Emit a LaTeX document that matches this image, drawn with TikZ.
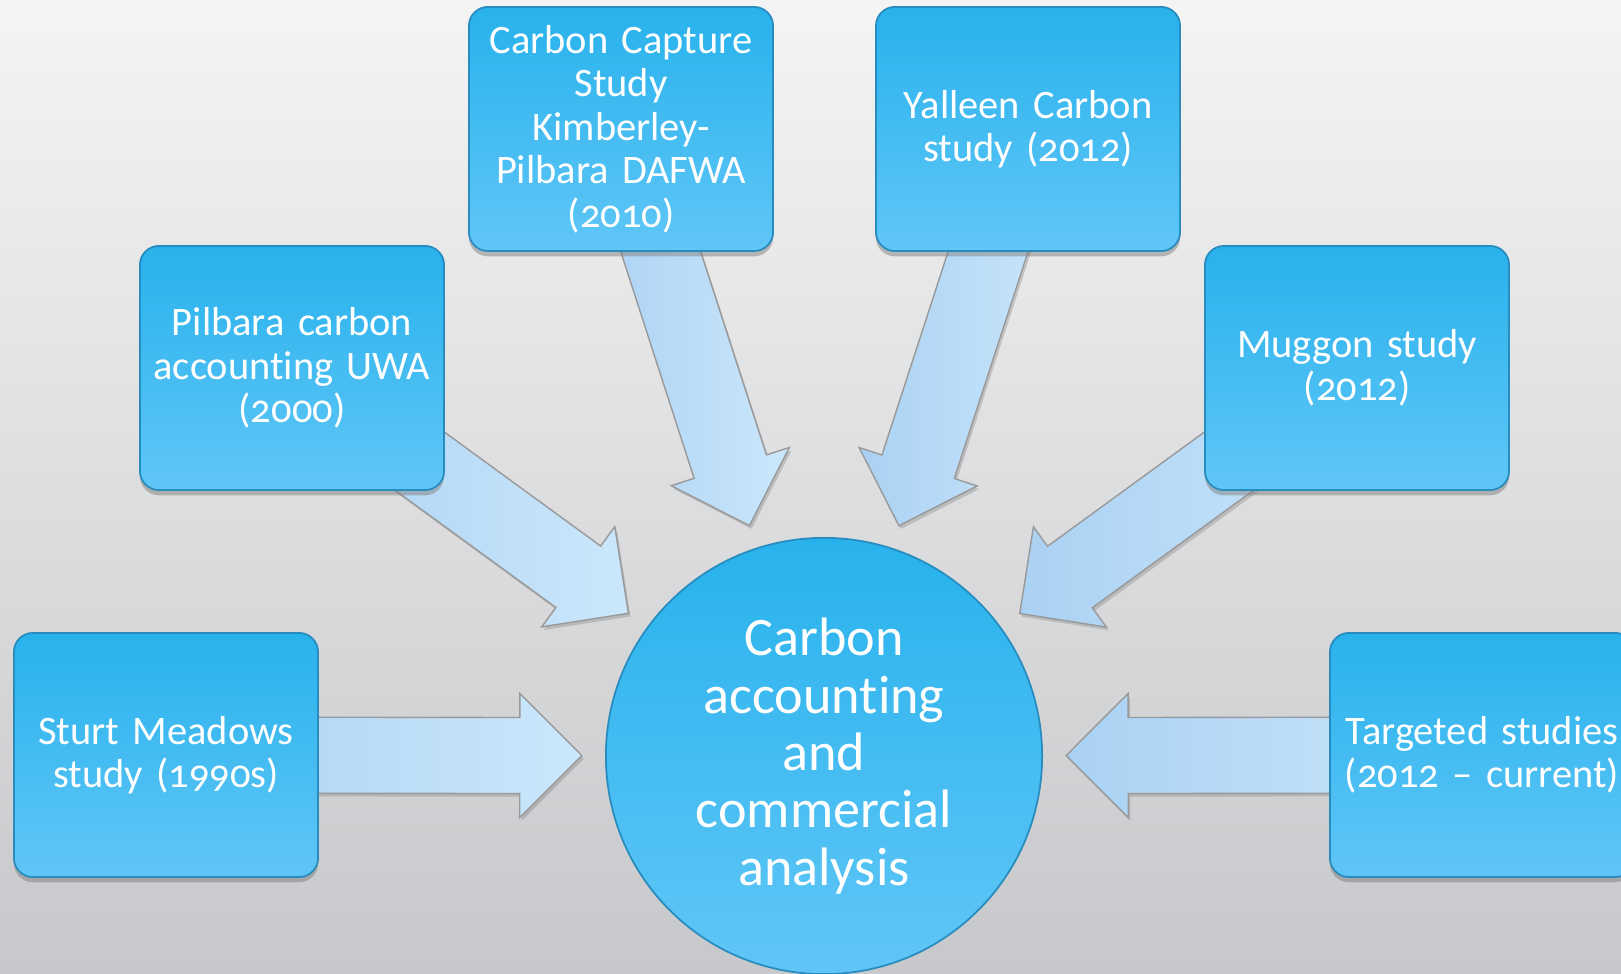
\documentclass[tikz,border=0pt]{standalone}
\usepackage{fontspec}
\setmainfont{Carlito}[Numbers=OldStyle,Ligatures=NoCommon,RawFeature={-calt},WordSpace=0.8]
\usetikzlibrary{calc,shadows}
\definecolor{boxtop}{RGB}{40,178,236}
\definecolor{boxbot}{RGB}{96,198,247}
\definecolor{boxline}{RGB}{40,140,190}
\definecolor{arrowlo}{RGB}{170,209,243}
\definecolor{arrowhi}{RGB}{203,231,251}
\definecolor{bgtop}{RGB}{244,244,244}
\definecolor{bgbot}{RGB}{199,200,203}
\pgfdeclarelayer{back}
\pgfdeclarelayer{arrows}
\pgfsetlayers{back,arrows,main}
\tikzset{
  studybox/.style={rectangle, rounded corners=0.19cm, minimum width=3.04cm,
    minimum height=2.44cm, text width=2.96cm, inner sep=0pt, align=center,
    text=white, font=\fontsize{11.5}{12.35}\selectfont,
    top color=boxtop, bottom color=boxbot, draw=boxline, line width=0.5pt,
    drop shadow={shadow xshift=0pt, shadow yshift=-1.5pt, opacity=0.5}},
  hub/.style={circle, minimum size=4.36cm, inner sep=0pt, align=center,
    text=white, font=\fontsize{15.4}{16.3}\selectfont,
    top color=boxtop, bottom color=boxbot, draw=boxline, line width=0.5pt},
  blockarrow/.style={draw=gray!80, line width=0.4pt, left color=arrowlo,
    right color=arrowhi,
    drop shadow={shadow xshift=0.6pt, shadow yshift=-0.9pt, opacity=0.35}}
}
% block arrow from a study box to a tip coordinate
\newcommand{\feedarrow}[2]{%
  \coordinate (#2base) at ($(#2)!0.62cm!(#1)$);
  \draw[blockarrow] ($(#1)!0.38cm!90:(#2)$) -- ($(#2base)!0.38cm!-90:(#1)$)
    -- ($(#2base)!0.62cm!-90:(#1)$) -- (#2) -- ($(#2base)!0.62cm!90:(#1)$)
    -- ($(#2base)!0.38cm!90:(#1)$) -- ($(#1)!0.38cm!-90:(#2)$) -- cycle;
}

\begin{document}
\begin{tikzpicture}[x=0.01cm,y=-0.01cm]
  \useasboundingbox (0,0) rectangle (1621,974);
  \clip (0,0) rectangle (1621,974);
  \begin{pgfonlayer}{back}
    \shade[top color=bgtop, bottom color=bgbot] (0,0) rectangle (1621,974);
  \end{pgfonlayer}

  \node[hub] (hub) at (824,756) {Carbon\\accounting\\and\\commercial\\analysis};

  \node[studybox] (sturt) at (166,755) {Sturt Meadows\\study (1990s)};
  \node[studybox] (pilbara) at (292,368) {Pilbara carbon\\accounting UWA\\(2000)};
  \node[studybox] (capture) at (621,129)
    {Carbon Capture\\Study\\Kimberley-\\Pilbara DAFWA\\(2010)};
  \node[studybox] (yalleen) at (1028,129) {Yalleen Carbon\\study (2012)};
  \node[studybox] (muggon) at (1357,368) {Muggon study\\(2012)};
  \node[studybox] (targeted) at (1482,755) {Targeted studies\\(2012 -- current)};

  % tips stop short of the hub
  \foreach \b in {sturt,pilbara,capture,yalleen,muggon,targeted}
    \coordinate (\b tip) at ($(hub)!2.42cm!(\b)$);
  \begin{pgfonlayer}{arrows}
    \foreach \b in {sturt,pilbara,capture,yalleen,muggon,targeted}
      {\feedarrow{\b}{\b tip}}
  \end{pgfonlayer}
\end{tikzpicture}
\end{document}
